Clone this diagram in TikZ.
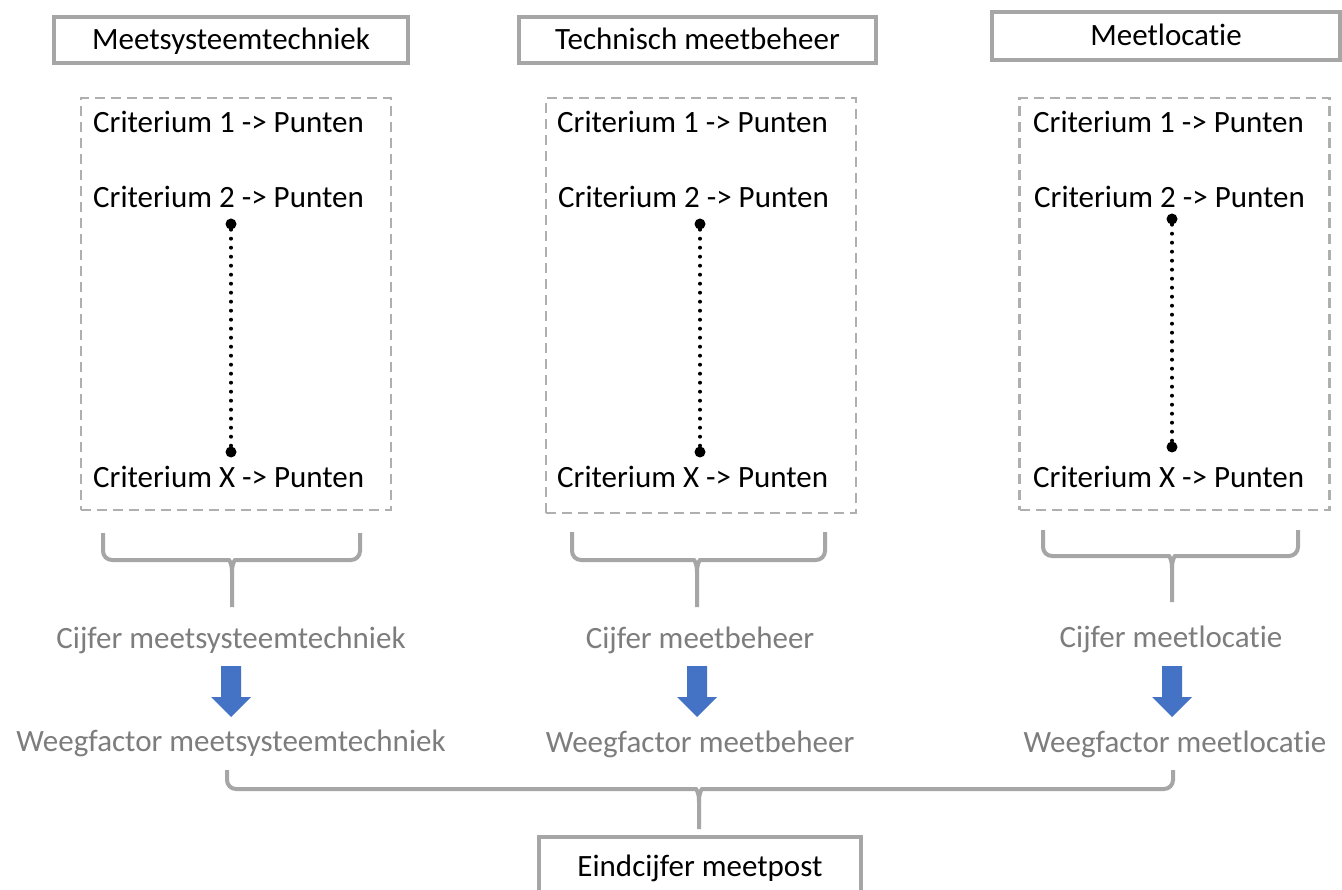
\documentclass[tikz,border=0pt]{standalone}
\usepackage{fontspec}
\setmainfont{Carlito}[RawFeature={-liga;-clig;-calt;-dlig}]
\usetikzlibrary{calc}
\definecolor{boxgray}{RGB}{166,166,166}
\definecolor{dashgray}{RGB}{175,175,175}
\definecolor{labgray}{RGB}{125,125,125}
\definecolor{arrowblue}{RGB}{68,114,196}
\newcommand\blockarrowdown[1]{%
  \fill[arrowblue] (#1-10,666) -- (#1+10,666) -- (#1+10,697) -- (#1+20,697) -- (#1,717) -- (#1-20,697) -- (#1-10,697) -- cycle;}
\newcommand\bracedown[6]{% left, right, centre, top, mid, bottom
  \draw[bracestyle] (#1,#4) -- (#1,#5) -- (#3-12,#5) [sharp corners] .. controls (#3-3,#5) and (#3,#5+3) .. (#3,#5+12) -- (#3,#6);
  \draw[bracestyle] (#2,#4) -- (#2,#5) -- (#3+12,#5) [sharp corners] .. controls (#3+3,#5) and (#3,#5+3) .. (#3,#5+12);}
\begin{document}
\begin{tikzpicture}[x=1pt,y=-1pt,
  font=\fontsize{31}{37}\selectfont,
  titlebox/.style={draw=boxgray, line width=4pt, fill=white, inner sep=0pt,
    text height=20pt, text depth=0pt, minimum height=46pt},
  critbox/.style={draw=dashgray, line width=2.7pt, dash pattern=on 10pt off 6pt,
    inner sep=0pt, minimum width=310pt},
  crit/.style={anchor=base west, inner sep=0pt},
  glab/.style={anchor=base, inner sep=0pt, text=labgray},
  dotn/.style={circle, fill=black, inner sep=0pt, minimum size=11pt},
  dotline/.style={line width=4pt, dash pattern=on 0pt off 9pt, line cap=round},
  bracestyle/.style={draw=boxgray, line width=4pt, rounded corners=9pt}]
\clip (0,0) rectangle (1342,890);
\fill[white] (0,0) rectangle (1342,890);

% title boxes
\node[titlebox, minimum width=354pt] (t1) at (231,40) {Meetsysteemtechniek};
\node[titlebox, minimum width=357pt] (t2) at (697.5,40) {Technisch meetbeheer};
\node[titlebox, minimum width=348pt, minimum height=48pt] (t3) at (1166,36) {Meetlocatie};

% dashed criteria boxes
\node[critbox, minimum height=412pt] (b1) at (236,304) {};
\node[critbox, minimum height=415pt] (b2) at (701,305.5) {};
\node[critbox, minimum height=412pt] (b3) at (1174.5,304) {};

% criteria texts
\node[crit] (c11) at (93,133) {Criterium 1 -> Punten};
\node[crit] (c12) at (93,208) {Criterium 2 -> Punten};
\node[crit] (c1x) at (93,487) {Criterium X -> Punten};
\node[crit] (c21) at (557,133) {Criterium 1 -> Punten};
\node[crit] (c22) at (558,208) {Criterium 2 -> Punten};
\node[crit] (c2x) at (557,487) {Criterium X -> Punten};
\node[crit] (c31) at (1033,133) {Criterium 1 -> Punten};
\node[crit] (c32) at (1034,208) {Criterium 2 -> Punten};
\node[crit] (c3x) at (1033,487) {Criterium X -> Punten};

% dots and dotted lines
\node[dotn] (d1a) at (231,224) {};
\node[dotn] (d1b) at (231,452) {};
\node[dotn] (d2a) at (700,224) {};
\node[dotn] (d2b) at (700,452) {};
\node[dotn] (d3a) at (1172,219) {};
\node[dotn] (d3b) at (1172,447) {};
\draw[dotline] (d1a) -- (d1b);
\draw[dotline] (d2a) -- (d2b);
\draw[dotline] (d3a) -- (d3b);

% braces
\bracedown{103}{360}{232}{533}{560}{607}
\bracedown{572}{825}{697}{532}{560}{607}
\bracedown{1043}{1298}{1172}{530}{556}{602}

% gray labels
\node[glab] (g1) at (231,648) {Cijfer meetsysteemtechniek};
\node[glab] (g2) at (700,648) {Cijfer meetbeheer};
\node[glab] (g3) at (1171,647) {Cijfer meetlocatie};

% blue arrows
\blockarrowdown{231}
\blockarrowdown{697}
\blockarrowdown{1172}

\node[glab] (w1) at (231,751) {Weegfactor meetsysteemtechniek};
\node[glab] (w2) at (700,752) {Weegfactor meetbeheer};
\node[glab] (w3) at (1175,752) {Weegfactor meetlocatie};

% bottom brace
\draw[bracestyle] (227,770) -- (227,789) -- (687,789) [sharp corners] .. controls (696,789) and (699,792) .. (699,801) -- (699,829);
\draw[bracestyle] (1173,770) -- (1173,789) -- (711,789) [sharp corners] .. controls (702,789) and (699,792) .. (699,801);

% final box
\node[titlebox, minimum width=322pt, minimum height=58pt] (eind) at (700,866) {Eindcijfer meetpost};
\end{tikzpicture}
\end{document}
